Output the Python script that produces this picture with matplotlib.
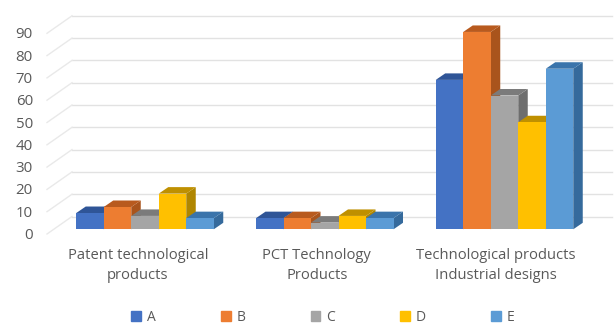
import matplotlib
matplotlib.use("Agg")
import matplotlib.pyplot as plt
from matplotlib.patches import Patch

categories = ["Patent technological\nproducts", "PCT Technology\nProducts", "Technological products\nIndustrial designs"]
series_names = ["A", "B", "C", "D", "E"]
series_a = [7.3, 5, 67]
series_b = [10, 5, 88.5]
series_c = [6, 3, 60]
series_d = [16, 6, 48]
series_e = [5, 5, 72]
y_ticks = [0, 10, 20, 30, 40, 50, 60, 70, 80, 90]

front_colors = ["#4472C4", "#ED7D31", "#A5A5A5", "#FFC000", "#5B9BD5"]
top_colors = ["#2F5597", "#B85A1E", "#7B7B7B", "#BF9000", "#3A74AB"]
side_colors = ["#2C5090", "#A9541C", "#6E6E6E", "#B08600", "#356A9C"]

PX_PER_GROUP = 179.75
PX_PER_UNIT = 2.23


def dx(px):
    return px / PX_PER_GROUP


def dy(px):
    return px / PX_PER_UNIT


fig = plt.figure(figsize=(6.16, 3.26), dpi=100)
plt.rcParams["font.family"] = ["Open Sans", "DejaVu Sans"]
ax = fig.add_axes([0, 0, 1, 1])
ax.set_xlim(-145 / PX_PER_GROUP, (616 - 145) / PX_PER_GROUP)
ax.set_ylim((229.3 - 326) / PX_PER_UNIT, 229.3 / PX_PER_UNIT)
ax.axis("off")

# the box: gridlines on the back wall, short diagonals on the side wall
floor_front = dy(-4.7)
wall_left = dx(47 - 145)
wall_back = dx(72 - 145)
wall_right = dx(612 - 145)
floor_back = floor_front + dy(17.5)
for v in y_ticks:
    ax.plot([wall_back, wall_right], [floor_back + v, floor_back + v], color="#E2E2E2", lw=1.0, zorder=1)
    ax.plot([wall_left, wall_back], [floor_front + v, floor_back + v], color="#E9E9E9", lw=1.0, zorder=1)
    ax.text(wall_left - dx(14), floor_front + v - dy(1.5), str(v), ha="right", va="center", fontsize=10.8, color="#595959")

# bars, left to right so each front covers the side of the previous one
bar_w = dx(27.5)
depth_x = dx(9.5)
depth_y = dy(6.5)
series = [series_a, series_b, series_c, series_d, series_e]
for g in range(len(categories)):
    for s, values in enumerate(series):
        x0 = g + (s - 2.5) * bar_w
        x1 = x0 + bar_w
        v = values[g]
        z = 3 + g * 10 + s
        ax.fill([x1, x1 + depth_x, x1 + depth_x, x1], [0, depth_y, v + depth_y, v], color=side_colors[s], lw=0, zorder=z)
        ax.fill([x0, x0 + depth_x, x1 + depth_x, x1], [v, v + depth_y, v + depth_y, v], color=top_colors[s], lw=0, zorder=z)
        ax.fill([x0, x1, x1, x0], [0, 0, v, v], color=front_colors[s], lw=0, zorder=z)

for g, name in enumerate(categories):
    ax.text(g - dx(7 + g), dy(229.3 - 265.5), name, ha="center", va="center", fontsize=10.6, color="#595959", linespacing=1.5)

handles = [Patch(color=c, label=n) for c, n in zip(front_colors, series_names)]
ax.legend(handles=handles, loc="center", bbox_to_anchor=(0.524, 0.027), ncol=5, frameon=False, fontsize=10,
          labelcolor="#595959", handlelength=0.7, handleheight=0.7, handletextpad=0.4, columnspacing=4.72)

fig.savefig("out.png", dpi=100)
